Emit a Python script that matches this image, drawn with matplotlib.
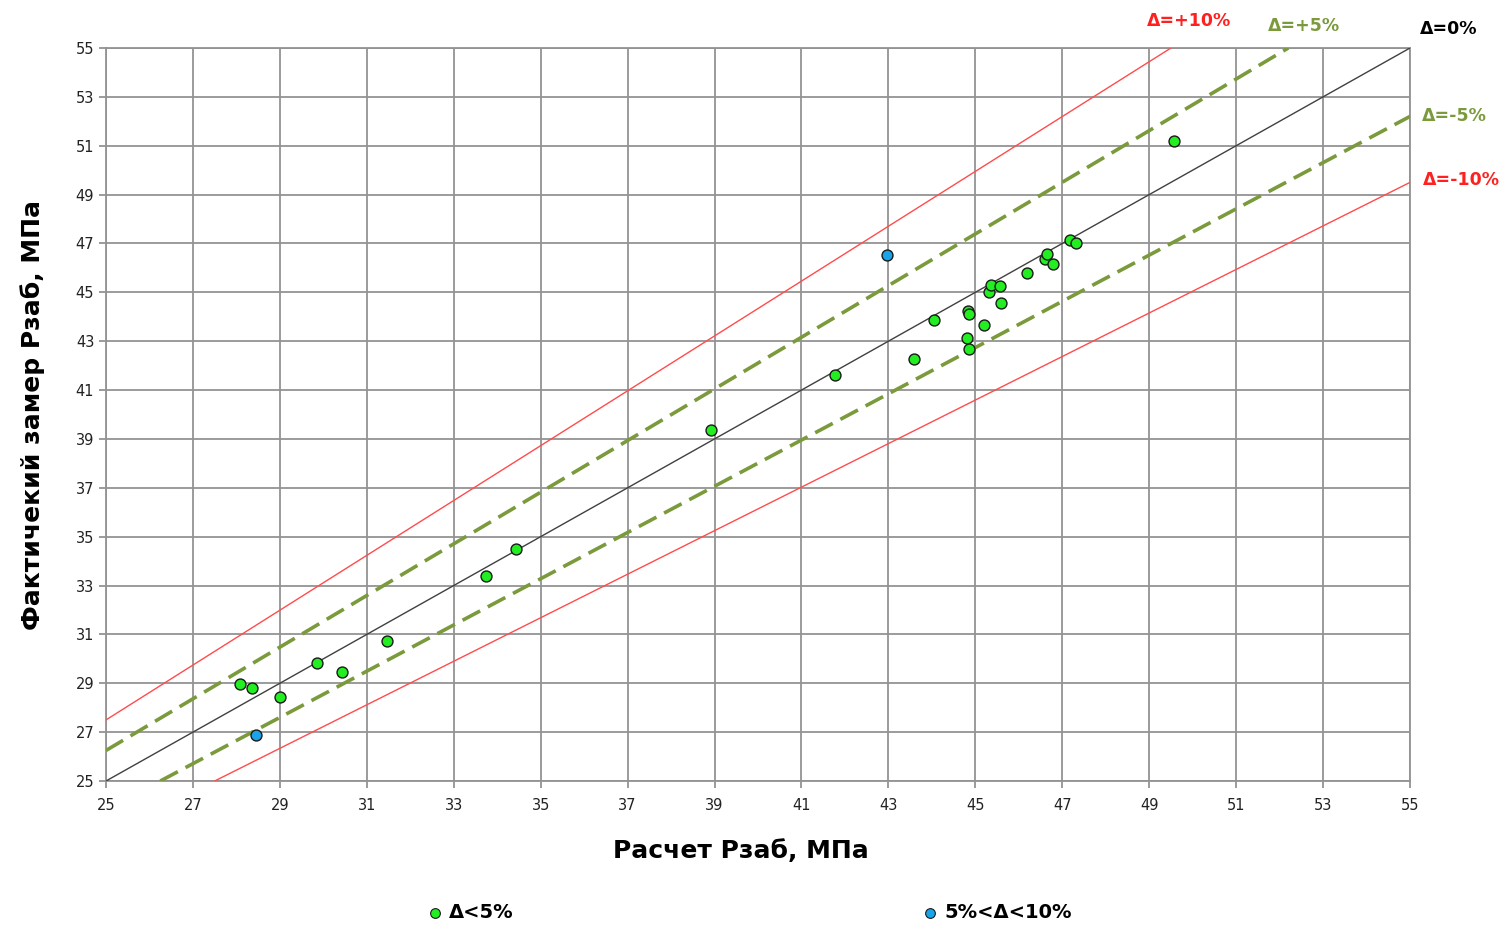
import matplotlib
matplotlib.use('Agg')
from matplotlib import pyplot as plt
import numpy as np

plt.rcParams['font.family'] = ['DejaVu Sans']

# расчет / факт, Δ<5%
calc_ok = [28.08, 28.35, 29.0, 29.85, 30.42, 31.46, 33.74, 34.43, 38.92, 41.78,
           43.59, 44.05, 44.80, 44.86, 44.82, 44.86, 45.20, 45.32, 45.36, 45.57,
           45.60, 46.18, 46.60, 46.65, 46.78, 47.18, 47.31, 49.56]
fact_ok = [28.95, 28.82, 28.42, 29.82, 29.47, 30.72, 33.38, 34.50, 39.35, 41.62,
           42.28, 43.87, 43.15, 42.68, 44.22, 44.12, 43.68, 45.01, 45.31, 45.24,
           44.57, 45.80, 46.38, 46.58, 46.15, 47.15, 47.02, 51.20]
# 5%<Δ<10%
calc_mid = [28.45, 42.97]
fact_mid = [26.88, 46.52]

# граничные линии
x_p10 = [25, 49.5]; y_p10 = [27.5, 55]
x_m10 = [27.5, 55]; y_m10 = [25, 49.5]
x_p5 = [25, 52.2]; y_p5 = [26.25, 55]
x_m5 = [26.25, 55]; y_m5 = [25, 52.2]
x_0 = [25, 55]; y_0 = [25, 55]

ticks = np.arange(25, 56, 2)

fig = plt.figure(figsize=(15.12, 9.44), dpi=100)
ax = fig.add_axes([106/1512, 1-781/944, (1410-106)/1512, (781-48)/944])

ax.plot(x_p10, y_p10, color='#ff4c4c', lw=1.0, zorder=3)
ax.plot(x_m10, y_m10, color='#ff4c4c', lw=1.0, zorder=3)
ax.plot(x_p5, y_p5, color='#7a9a3c', lw=2.6, dashes=(5.5, 2.4), zorder=3)
ax.plot(x_m5, y_m5, color='#7a9a3c', lw=2.6, dashes=(5.5, 2.4), zorder=3)
ax.plot(x_0, y_0, color='#404040', lw=1.0, zorder=3)

ax.scatter(calc_ok, fact_ok, s=62, color='#22ee22', edgecolor='#1a1a1a', lw=1.0, zorder=5)
ax.scatter(calc_mid, fact_mid, s=62, color='#1aa3e8', edgecolor='#1a1a1a', lw=1.0, zorder=5)

ax.set_xlim(25, 55)
ax.set_ylim(25, 55)
ax.set_xticks(ticks)
ax.set_yticks(ticks)
ax.grid(True, color='#939393', lw=1.3)
ax.set_axisbelow(True)
for s in ax.spines.values():
    s.set_color('#939393')
    s.set_linewidth(1.3)
ax.tick_params(axis='both', colors='#939393', length=5, width=1.3, labelsize=10.5,
               labelcolor='#222222')
ax.tick_params(axis='x', pad=7)

ax.set_xlabel('Расчет Рзаб, МПа', fontsize=18, fontweight='bold')
ax.xaxis.set_label_coords((741-106)/1304, -(839-781)/733)
ax.set_ylabel('Фактичекий замер Рзаб, МПа', fontsize=18, fontweight='bold', labelpad=22)

# подписи линий
fig.text(1147/1512, 1-21/944, 'Δ=+10%', color='#ff2020', fontsize=12.5, fontweight='bold', va='center')
fig.text(1268/1512, 1-26/944, 'Δ=+5%', color='#7a9a3c', fontsize=12.5, fontweight='bold', va='center')
fig.text(1420/1512, 1-29/944, 'Δ=0%', color='black', fontsize=12.5, fontweight='bold', va='center')
fig.text(1422/1512, 1-116/944, 'Δ=-5%', color='#7a9a3c', fontsize=12.5, fontweight='bold', va='center')
fig.text(1423/1512, 1-180/944, 'Δ=-10%', color='#ff2020', fontsize=12.5, fontweight='bold', va='center')

# легенда
fig.lines.append(plt.Line2D([435/1512], [1-913/944], marker='o', ms=7, color='#22ee22',
                            mec='#1a1a1a', mew=0.8, transform=fig.transFigure))
fig.lines.append(plt.Line2D([930/1512], [1-913/944], marker='o', ms=7, color='#1aa3e8',
                            mec='#1a1a1a', mew=0.8, transform=fig.transFigure))
fig.text(449/1512, 1-913/944, 'Δ<5%', fontsize=14, fontweight='bold', va='center')
fig.text(944/1512, 1-913/944, '5%<Δ<10%', fontsize=14, fontweight='bold', va='center')

fig.savefig('out.png', dpi=100)
